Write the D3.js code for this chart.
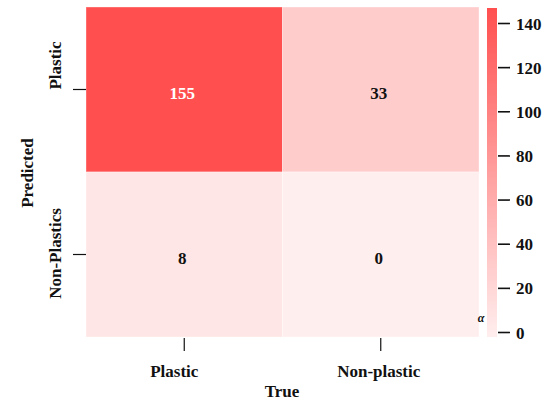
<!DOCTYPE html>
<html>
<head>
<meta charset="utf-8">
<script src="https://cdn.jsdelivr.net/npm/d3@7"></script>
<style>
  html, body { margin: 0; padding: 0; background: #fff; }
  svg { display: block; }
  text { font-family: "Liberation Serif", "Times New Roman", serif; font-weight: bold; fill: #111; }
</style>
</head>
<body>
<svg id="chart" width="555" height="403"></svg>
<script>
// Confusion matrix: rows = predicted class, columns = true class
const trueLabels = ["Plastic", "Non-plastic"];
const predictedLabels = ["Plastic", "Non-Plastics"];
const counts = [
  [155, 33],
  [8, 0]
];
const colorbarTicks = [0, 20, 40, 60, 80, 100, 120, 140];

const svg = d3.select("#chart");
const W = 555, H = 403;
const plot = { left: 86, right: 479, top: 7, bottom: 337 };

const x = d3.scaleBand().domain(trueLabels).range([plot.left, plot.right]);
const y = d3.scaleBand().domain(predictedLabels).range([plot.top, plot.bottom]);

const maxCount = d3.max(counts.flat());
const color = d3.scaleLinear().domain([0, maxCount]).range(["#ffeeee", "#ff4f4f"]);

// cells
const cells = [];
counts.forEach((row, i) => row.forEach((v, j) => cells.push({ pred: predictedLabels[i], tru: trueLabels[j], v })));

svg.append("g").selectAll("rect").data(cells).join("rect")
  .attr("x", d => x(d.tru))
  .attr("y", d => y(d.pred))
  .attr("width", x.bandwidth())
  .attr("height", y.bandwidth())
  .attr("fill", d => color(d.v))
  .attr("stroke", "rgba(255,255,255,0.35)")
  .attr("stroke-width", 1);

svg.append("g").selectAll("text").data(cells).join("text")
  .attr("x", d => x(d.tru) + x.bandwidth() / 2 - 2)
  .attr("y", d => y(d.pred) + y.bandwidth() / 2 + 9)
  .attr("text-anchor", "middle")
  .style("font-size", "17px")
  .style("fill", d => d.v > maxCount * 0.6 ? "#ffffff" : "#111")
  .text(d => d.v);

// x axis (true class)
const xAxis = svg.append("g")
  .attr("transform", `translate(0,${plot.bottom})`)
  .call(d3.axisBottom(x).tickSize(14).tickPadding(11));
xAxis.select(".domain").remove();
xAxis.selectAll(".tick line").attr("stroke", "#111").attr("stroke-width", 1.2).attr("y1", 1);
xAxis.selectAll(".tick text")
  .style("font-size", "17px")
  .attr("dy", 0)
  .attr("y", 40)
  .attr("dx", d => d === "Plastic" ? -10 : -2);

// y axis (predicted class), labels rotated
const yAxis = svg.append("g")
  .attr("transform", `translate(${plot.left},0)`)
  .call(d3.axisLeft(y).tickSize(13));
yAxis.select(".domain").remove();
yAxis.selectAll(".tick line").attr("stroke", "#111").attr("stroke-width", 1.2);
yAxis.selectAll(".tick text")
  .style("font-size", "17px")
  .attr("x", null).attr("dy", null)
  .attr("text-anchor", "middle")
  .attr("transform", d => `translate(-25,${d === "Plastic" ? -24 : -1}) rotate(-90)`);

// axis titles
svg.append("text")
  .attr("x", 282).attr("y", 397)
  .attr("text-anchor", "middle")
  .style("font-size", "17px")
  .text("True");

svg.append("text")
  .attr("transform", "translate(33,173) rotate(-90)")
  .attr("text-anchor", "middle")
  .style("font-size", "17px")
  .text("Predicted");

// colorbar
const cb = { x: 487, w: 10, top: 8, bottom: 337 };
const cbScale = d3.scaleLinear().domain([0, 140]).range([332, 23]);
const defs = svg.append("defs");
const grad = defs.append("linearGradient").attr("id", "cbgrad")
  .attr("x1", 0).attr("y1", 1).attr("x2", 0).attr("y2", 0);
grad.append("stop").attr("offset", "0%").attr("stop-color", color(0));
grad.append("stop").attr("offset", "100%").attr("stop-color", color(maxCount));

svg.append("rect")
  .attr("x", cb.x).attr("y", cb.top)
  .attr("width", cb.w).attr("height", cb.bottom - cb.top)
  .attr("fill", "url(#cbgrad)");

const cbAxis = svg.append("g")
  .attr("transform", `translate(${cb.x + cb.w + 1},0)`)
  .call(d3.axisRight(cbScale).tickValues(colorbarTicks).tickSize(12).tickPadding(6));
cbAxis.select(".domain").remove();
cbAxis.selectAll(".tick line").attr("stroke", "#111").attr("stroke-width", 1.6);
cbAxis.selectAll(".tick text").style("font-size", "17px").attr("dy", "0.36em");

// small stray glyph beside the colorbar
svg.append("text")
  .attr("x", 481).attr("y", 322)
  .attr("text-anchor", "middle")
  .style("font-size", "12px")
  .style("font-style", "italic")
  .text("α");
</script>
</body>
</html>
